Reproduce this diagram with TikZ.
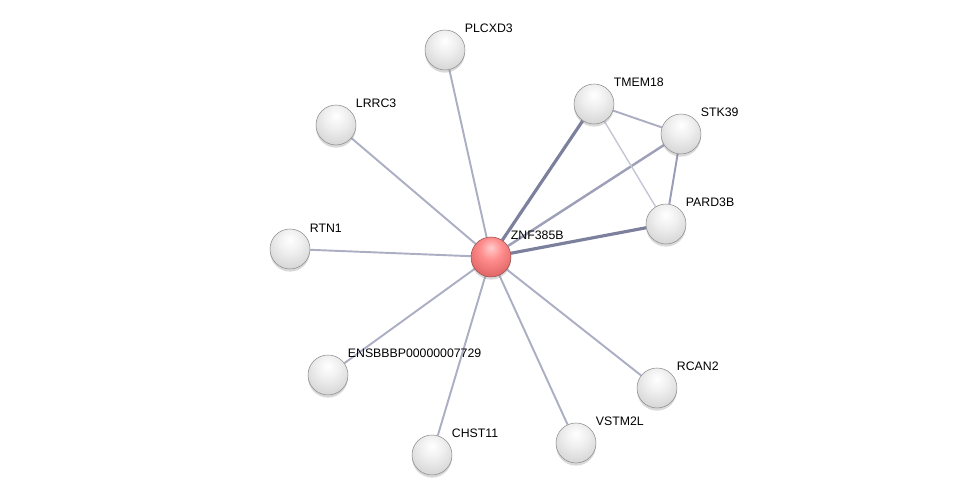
\documentclass[tikz,border=0pt]{standalone}
\usepackage{fontspec}
\setmainfont{Liberation Sans}
\usepackage{tikz}
\usetikzlibrary{shadows,backgrounds}

\definecolor{linkgray}{RGB}{172,174,196}
\definecolor{linkdark}{RGB}{124,128,156}
\definecolor{linklight}{RGB}{196,198,214}

\pgfdeclareradialshading{proteinball}{\pgfpoint{0bp}{12bp}}{%
    color(0bp)=(white); color(14bp)=(white!94!black); color(32bp)=(white!84!black);
    color(46bp)=(white!72!black); color(58bp)=(white!55!black); color(80bp)=(white!45!black)}
\pgfdeclareradialshading{queryball}{\pgfpoint{0bp}{12bp}}{%
    color(0bp)=(red!20!white); color(14bp)=(red!45!white); color(32bp)=(red!55!white!88!black);
    color(46bp)=(red!60!white!75!black); color(58bp)=(red!60!black); color(80bp)=(red!45!black)}

\begin{document}
\begin{tikzpicture}[x=0.02cm,y=-0.02cm]
    \tikzstyle{protein}=[circle,minimum size=0.8cm,inner sep=0pt,shading=proteinball,
        draw=black!45,line width=0.3pt,
        drop shadow={shadow xshift=0pt,shadow yshift=-1.5pt,opacity=0.3}]
    \tikzstyle{query protein}=[protein, shading=queryball, draw=red!40!black!70]
    \tikzstyle{link}=[draw=linkgray,line width=1.1pt]
    \tikzstyle{strong link}=[draw=linkdark,line width=1.8pt]
    \tikzstyle{weak link}=[draw=linklight,line width=0.8pt]
    \tikzstyle{annot}=[anchor=south west,inner sep=1pt,font=\fontsize{7}{8}\selectfont,xshift=0.07cm,yshift=0.01cm]

    \useasboundingbox (0,0) rectangle (975,500);

    % Draw the query protein
    \node[query protein] (ZNF385B) at (491,257) {};

    % Draw the partner proteins
    \foreach \name / \x / \y in {PLCXD3/445/50, LRRC3/336/125, RTN1/290/249,
        ENSBBBP00000007729/328/375, CHST11/432/455, VSTM2L/576/443,
        RCAN2/657/388, PARD3B/666/224, STK39/681/134, TMEM18/594/104}
        \node[protein] (\name) at (\x,\y) {};

    % Connect the query protein with every partner
    \begin{pgfonlayer}{background}
    \foreach \dest in {PLCXD3,LRRC3,RTN1,ENSBBBP00000007729,CHST11,VSTM2L,RCAN2}
        \path[link] (ZNF385B) -- (\dest);
    \path[strong link] (ZNF385B) -- (TMEM18);
    \path[strong link] (ZNF385B) -- (PARD3B);
    \path[link,line width=1.4pt,draw=linkgray!70!linkdark] (ZNF385B) -- (STK39);

    % Links among the partners
    \path[link] (TMEM18) -- (STK39);
    \path[link,draw=linkgray!60!linkdark] (STK39) -- (PARD3B);
    \path[weak link] (TMEM18) -- (PARD3B);
    \end{pgfonlayer}

    % Annotate the proteins
    \foreach \name in {ZNF385B,PLCXD3,LRRC3,RTN1,ENSBBBP00000007729,CHST11,
        VSTM2L,RCAN2,PARD3B,STK39,TMEM18}
        \node[annot] (\name-label) at (\name.north east) {\name};

\end{tikzpicture}
\end{document}
